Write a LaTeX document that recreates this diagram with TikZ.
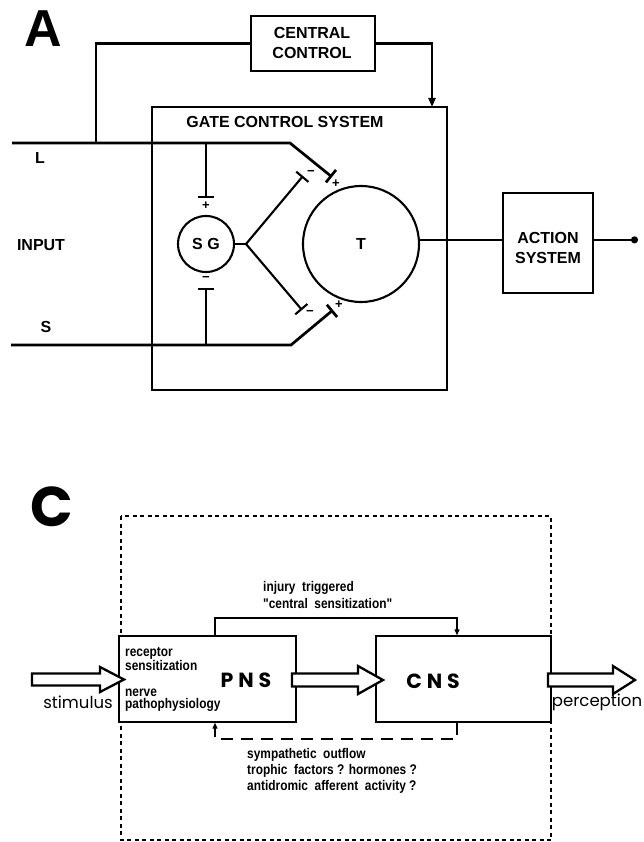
\documentclass[tikz,border=0pt]{standalone}
\usepackage{fontspec}
\setmainfont{Liberation Sans}
\newfontfamily\geo{Poppins}
\newfontfamily\cond[FakeStretch=0.85]{Liberation Sans}
\usetikzlibrary{arrows.meta}
\begin{document}
\begin{tikzpicture}[x=1pt,y=-1pt,line join=miter,
  heavy/.style={line width=2.7pt},
  linA/.style={line width=2.1pt},
  boxA/.style={draw,line width=2.1pt,inner sep=0pt},
  lblA/.style={font=\bfseries\fontsize{16}{20}\selectfont,inner sep=0pt},
  sign/.style={font=\bfseries\fontsize{13}{13}\selectfont,inner sep=0pt},
  syn/.style={line width=2.1pt,-{Bar[width=16pt]}},
  boxC/.style={draw,line width=1.4pt,inner sep=0pt},
  linC/.style={line width=1.2pt},
  ctext/.style={font=\cond\bfseries\fontsize{14}{12.5}\selectfont,inner sep=0pt,align=left},
  geotext/.style={font=\geo\fontsize{16.5}{16}\selectfont,inner sep=0pt},
  bigtext/.style={font=\geo\bfseries\addfontfeature{LetterSpace=24}\fontsize{20.5}{21}\selectfont,inner sep=0pt},
  blockarrow/.style={draw,line width=2.3pt,fill=white,line join=miter},
  smalltip/.style={-{Triangle[length=6pt,width=5pt]}}
]
\useasboundingbox (0,0) rectangle (643,842);
% ---------------- Panel A ----------------
\node[font=\bfseries\fontsize{52}{52}\selectfont,inner sep=0pt] (labA) at (43,29) {A};
\node[boxA,minimum width=124pt,minimum height=55pt] (cc) at (313,43.5) {};
\node[lblA,align=center] (cctext) at (312,43) {CENTRAL\\CONTROL};
\node[boxA,minimum width=295pt,minimum height=283pt] (gate) at (299.5,248.5) {};
\node[lblA] (gatetext) at (285,122) {GATE CONTROL SYSTEM};
\node[draw,circle,line width=2.1pt,minimum size=56pt,inner sep=0pt,font=\bfseries\fontsize{16}{16}\selectfont] (sg) at (206,244) {S G};
\node[draw,circle,line width=2.1pt,minimum size=116pt,inner sep=0pt,font=\bfseries\fontsize{16}{16}\selectfont] (t) at (361,244) {T};
\node[boxA,minimum width=90pt,minimum height=100pt] (act) at (548,243) {};
\node[lblA,align=center] (acttext) at (548,248) {ACTION\\SYSTEM};
\node[lblA] (labL) at (40,158) {L};
\node[lblA] (labIn) at (41,245) {INPUT};
\node[lblA] (labS) at (46,327) {S};
% coordinates
\coordinate (Lin) at (12,143);
\coordinate (Lk) at (290,143);
\coordinate (Lend) at (332,177);
\coordinate (Sin) at (11,345);
\coordinate (Sk) at (291,345);
\coordinate (Send) at (333,310);
\coordinate (fb) at (96,143);
\coordinate (gin) at (432,107);
\coordinate (sgTop) at (206,143);
\coordinate (sgTopBar) at (206,198);
\coordinate (sgBot) at (206,345);
\coordinate (sgBotBar) at (206,288);
\coordinate (jn) at (246,244);
\coordinate (brU) at (303,176);
\coordinate (brD) at (302,310);
\coordinate (out) at (638,240);
% connectors
\draw[heavy,-{Bar[width=16pt]}] (Lin) -- (Lk) -- (Lend);
\draw[heavy,-{Bar[width=16pt]}] (Sin) -- (Sk) -- (Send);
\draw[linA] (cc.west) -| (fb);
\draw[linA,-{Triangle[length=9pt,width=7pt]}] (cc.east) -| (gin);
\draw[syn] (sgTop) -- (sgTopBar);
\draw[syn] (sgBot) -- (sgBotBar);
\draw[linA] (sg.east) -- (jn);
\draw[syn] (jn) -- (brU);
\draw[syn] (jn) -- (brD);
\draw[linA] (t.4) -- (t.4 -| act.west);
\draw[linA,-{Circle[length=7pt]}] (t.4 -| act.east) -- (t.4 -| out);
% signs
\node[sign] (s1) at (206,206) {+};
\node[sign] (s2) at (206,279) {−};
\node[sign] (s3) at (311,173) {−};
\node[sign] (s4) at (336,184) {+};
\node[sign] (s5) at (310,313) {−};
\node[sign] (s6) at (339,305) {+};
% ---------------- Panel C ----------------
\node[font=\geo\bfseries\fontsize{56}{56}\selectfont,inner sep=0pt] (labC) at (52,507) {C};
\draw[line width=1.3pt,dash pattern=on 4pt off 3.5pt] (121,516) rectangle (551,840);
\node[boxC,minimum width=177pt,minimum height=86pt,fill=white] (pns) at (207.5,679) {};
\node[boxC,minimum width=175pt,minimum height=86pt,fill=white] (cns) at (463.5,679) {};
\node[bigtext] (pnstext) at (246,680) {PNS};
\node[bigtext] (cnstext) at (433,681) {CNS};
\node[ctext,anchor=west] (rec) at (125,659) {receptor\\sensitization};
\node[ctext,anchor=west] (nerve) at (125,700) {nerve\\pathophysiology};
\node[ctext,anchor=west] (inj) at (263,595) {injury\ \ triggered\\[3.5pt]"central\ \ sensitization"};
\node[ctext,anchor=west] (symp) at (247,771) {sympathetic\ \ outflow\\[2pt]trophic\ \ factors ? hormones ?\\[2pt]antidromic\ \ afferent\ \ activity ?};
\node[geotext] (stim) at (78,702) {stimulus};
\node[geotext] (perc) at (597,702) {perception};
\coordinate (u1) at (215,618);
\coordinate (u2) at (457,618);
\coordinate (d1) at (457,739);
\coordinate (d2) at (215,739);
\draw[linC,smalltip] (u1 |- pns.north) -- (u1) -- (u2) -- (u2 |- cns.north);
\draw[linC,smalltip,dash pattern=on 12pt off 8pt] (d1 |- cns.south) -- (d1) -- (d2) -- (d2 |- pns.south);
% block arrows
\draw[blockarrow] (32,673.5) -- (100,673.5) -- (100,667) -- (124,679.5) -- (100,692) -- (100,685.5) -- (32,685.5) -- cycle;
\draw[blockarrow] (292,673.5) -- (358,673.5) -- (358,666) -- (383,680) -- (358,694) -- (358,686.5) -- (292,686.5) -- cycle;
\draw[blockarrow] (548,673.5) -- (613,673.5) -- (613,666) -- (635,680) -- (613,694) -- (613,686.5) -- (548,686.5) -- cycle;
\end{tikzpicture}
\end{document}
